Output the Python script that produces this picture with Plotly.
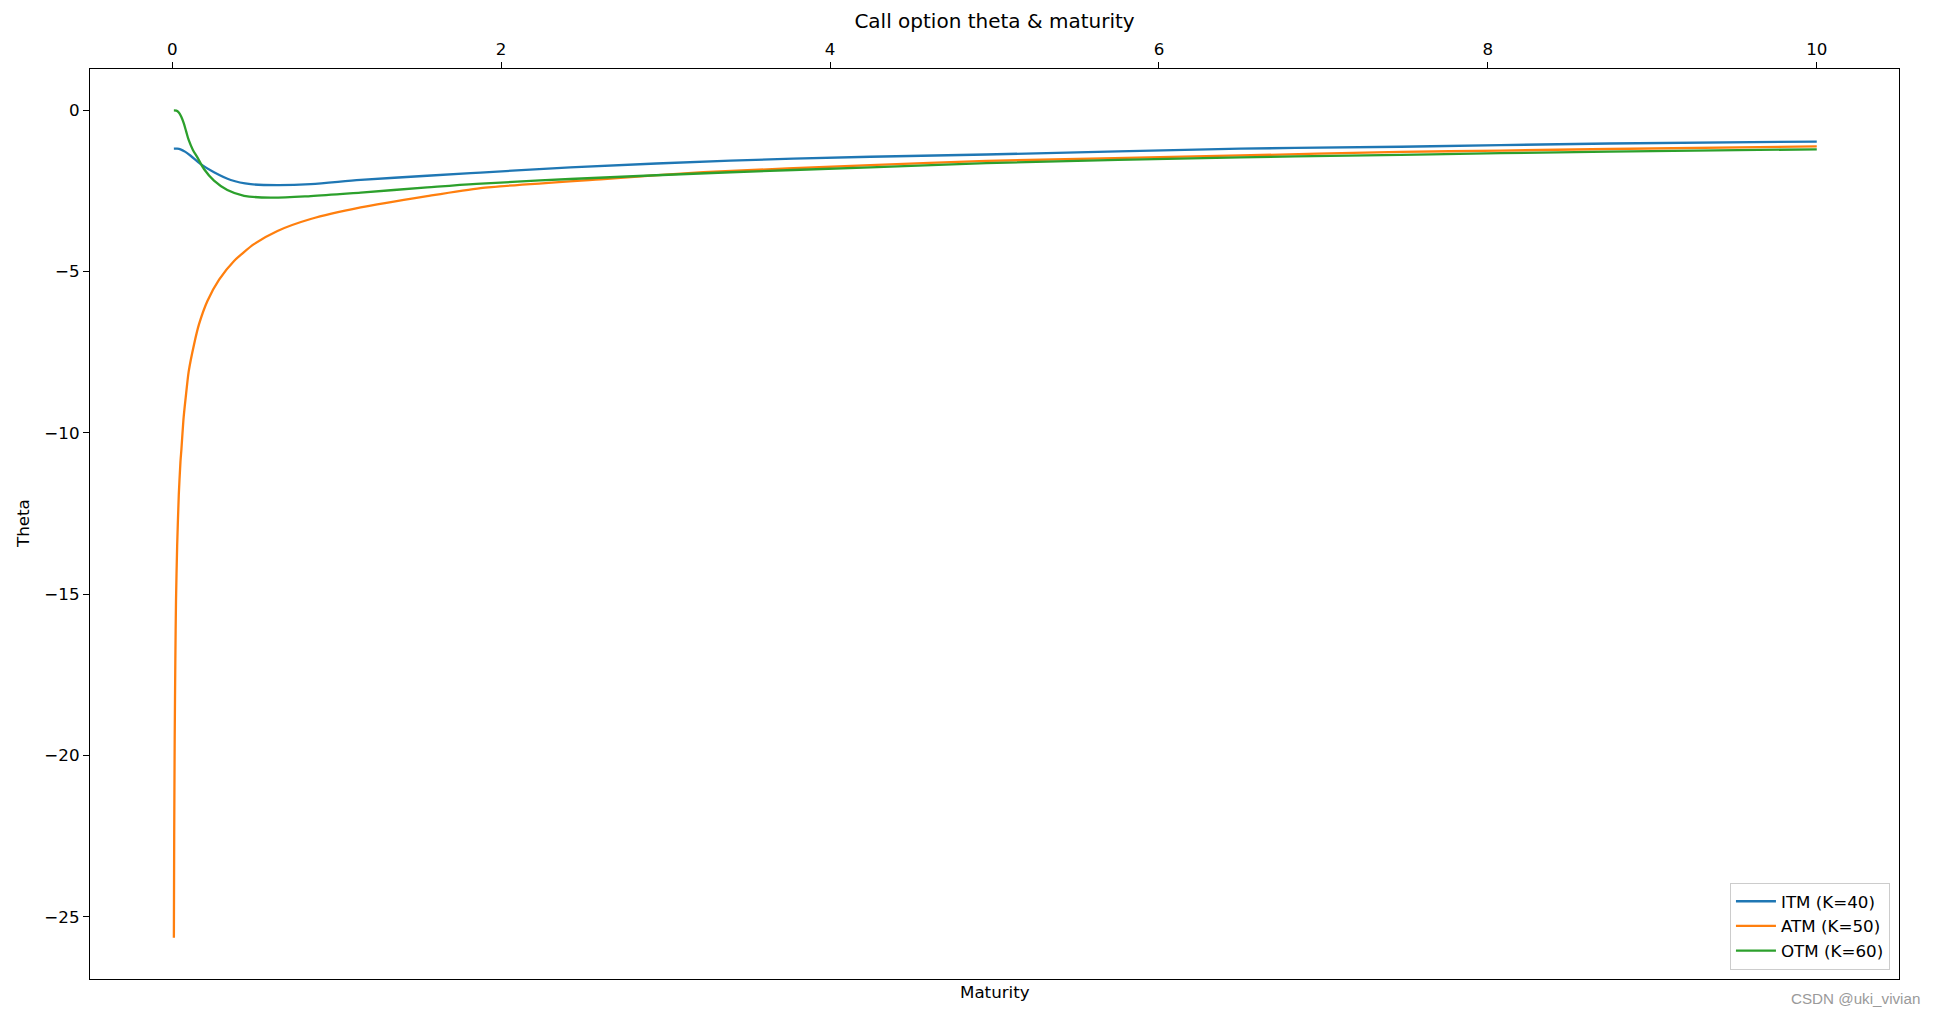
import plotly.graph_objects as go

# Data
itm_T = [0.01, 0.03, 0.05, 0.08, 0.112, 0.173, 0.254, 0.356, 0.477, 0.64, 0.842, 1.146, 1.55, 1.875,
         2.42, 3.395, 4.245, 4.95, 6.495, 7.47, 8.076, 8.74, 10.0]
itm_theta = [-1.19, -1.19, -1.21, -1.29, -1.41, -1.67, -1.92, -2.16, -2.29, -2.32, -2.29, -2.16, -2.03, -1.93,
             -1.77, -1.56, -1.44, -1.37, -1.19, -1.13, -1.08, -1.03, -0.97]

atm_T = [0.01, 0.012, 0.015, 0.019, 0.023, 0.03, 0.04, 0.05, 0.056, 0.068, 0.082, 0.1, 0.133, 0.163, 0.214,
         0.285, 0.376, 0.497, 0.64, 0.842, 1.146, 1.55, 1.875, 2.625, 3.23, 4.245, 4.95, 6.495, 7.47, 8.076,
         8.74, 10.0]
atm_theta = [-25.65, -22.5, -19.5, -17.0, -15.2, -13.5, -11.9, -10.9, -10.5, -9.6, -8.9, -8.1, -7.25, -6.63,
             -5.91, -5.25, -4.67, -4.15, -3.74, -3.37, -3.01, -2.66, -2.41, -2.13, -1.92, -1.70, -1.57, -1.40,
             -1.29, -1.25, -1.20, -1.12]

otm_T = [0.01, 0.025, 0.04, 0.055, 0.07, 0.085, 0.10, 0.125, 0.153, 0.193, 0.254, 0.335, 0.437, 0.599, 0.842,
         1.146, 1.55, 1.85, 2.42, 3.395, 4.245, 4.95, 6.495, 7.47, 8.076, 8.74, 10.0]
otm_theta = [0.0, -0.01, -0.07, -0.2, -0.4, -0.66, -0.92, -1.22, -1.46, -1.82, -2.18, -2.47, -2.65, -2.71, -2.66,
             -2.55, -2.39, -2.28, -2.13, -1.92, -1.77, -1.64, -1.46, -1.38, -1.33, -1.28, -1.21]

series_names = ["ITM (K=40)", "ATM (K=50)", "OTM (K=60)"]
series_colors = ["#1f77b4", "#ff7f0e", "#2ca02c"]

x_ticks = [0, 2, 4, 6, 8, 10]
y_ticks = [0, -5, -10, -15, -20, -25]
y_ticktext = ["0", "\u22125", "\u221210", "\u221215", "\u221220", "\u221225"]

FONT = "DejaVu Sans"
FS = 16.7

fig = go.Figure()
for name, color, xs, ys, group, sm in zip(series_names, series_colors,
                                          [itm_T, atm_T, otm_T],
                                          [itm_theta, atm_theta, otm_theta],
                                          ["g1", "g2", "g3"], [0.9, 0.6, 0.9]):
    fig.add_trace(go.Scatter(
        x=xs, y=ys, mode="lines", name=name, legendgroup=group,
        line=dict(color=color, width=2.3, shape="spline", smoothing=sm),
    ))

W, H = 1921, 1000

fig.update_layout(
    width=W, height=H,
    margin=dict(l=82, r=30, t=61, b=29),
    paper_bgcolor="white", plot_bgcolor="white",
    font=dict(family=FONT, size=FS, color="black"),
    title=dict(text="Call option theta & maturity", x=0.5, xref="paper", xanchor="center",
               y=1 - 13 / H, yref="container", yanchor="middle",
               font=dict(family=FONT, size=20, color="black")),
    showlegend=True,
    legend=dict(x=0.995, xanchor="right", y=0.01, yanchor="bottom",
                bgcolor="rgba(255,255,255,0.8)", bordercolor="#cccccc", borderwidth=1,
                font=dict(family=FONT, size=FS, color="black"),
                tracegroupgap=0, itemwidth=40),
    xaxis=dict(side="top", range=[-0.5, 10.5], tickvals=x_ticks, ticktext=[str(v) for v in x_ticks],
               ticks="outside", ticklen=6, tickwidth=1.2, tickcolor="black",
               showline=True, linecolor="black", linewidth=1.2, mirror=True,
               showgrid=False, zeroline=False, tickfont=dict(family=FONT, size=FS)),
    yaxis=dict(range=[-26.93, 1.28], tickvals=y_ticks, ticktext=y_ticktext,
               ticks="outside", ticklen=6, tickwidth=1.2, tickcolor="black",
               showline=True, linecolor="black", linewidth=1.2, mirror=True,
               showgrid=False, zeroline=False, tickfont=dict(family=FONT, size=FS)),
    annotations=[
        dict(text="Maturity", x=0.5, xref="paper", y=-0.0143, yref="paper",
             xanchor="center", yanchor="middle", showarrow=False,
             font=dict(family=FONT, size=FS, color="black")),
        dict(text="Theta", x=-0.037, xref="paper", y=0.5, yref="paper", textangle=-90,
             xanchor="center", yanchor="middle", showarrow=False,
             font=dict(family=FONT, size=FS, color="black")),
        dict(text="CSDN @uki_vivian", x=1.0127, xref="paper", y=-0.021, yref="paper",
             xanchor="right", yanchor="middle", showarrow=False,
             font=dict(family="Liberation Sans", size=15.2, color="#9a9a9a")),
    ],
)

fig.write_html("out.html")
